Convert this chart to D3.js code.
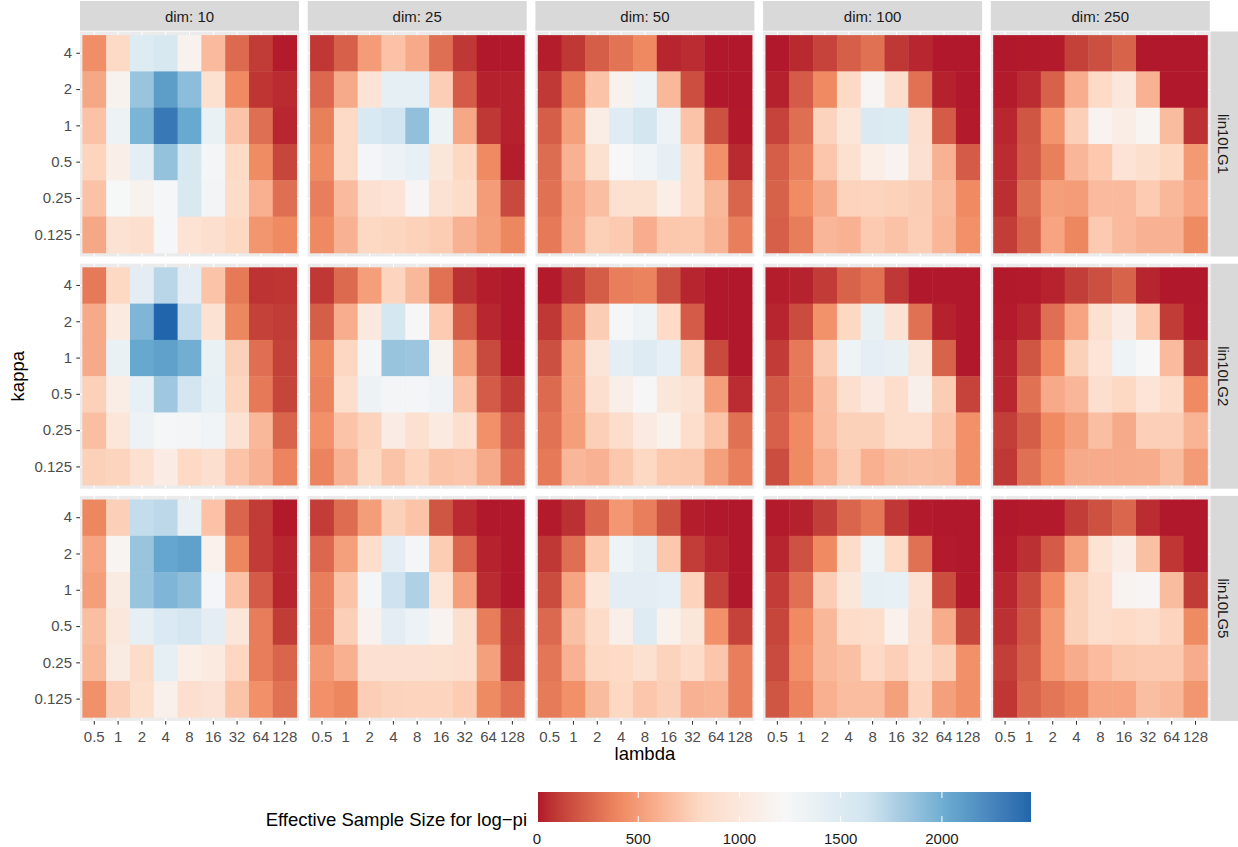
<!DOCTYPE html>
<html>
<head>
<meta charset="utf-8">
<script src="https://cdn.jsdelivr.net/npm/d3@7"></script>
<style>
  body { margin: 0; background: #fff; }
  text { font-family: "Liberation Sans", Arial, Helvetica, sans-serif; }
</style>
</head>
<body>
<div class="canvas"></div>
<script>
// categories
const lambdas = ['0.5', '1', '2', '4', '8', '16', '32', '64', '128'];
const kappas = ['4', '2', '1', '0.5', '0.25', '0.125'];   // top to bottom
const dims = ['10', '25', '50', '100', '250'];
const models = ['lin10LG1', 'lin10LG2', 'lin10LG5'];

// ESS values, rows = kappa (4 .. 0.125), cols = lambda (0.5 .. 128)
const lg1_d10 = [
  [430, 810, 1500, 1560, 1150, 650, 280, 100, 10],
  [560, 1150, 1850, 2100, 1900, 900, 410, 80, 50],
  [690, 1330, 1960, 2330, 2030, 1360, 700, 300, 40],
  [780, 1100, 1420, 1870, 1560, 1260, 815, 420, 140],
  [690, 1230, 1150, 1240, 1540, 1280, 830, 600, 300],
  [560, 920, 870, 1240, 930, 880, 800, 470, 410]
];
const lg1_d25 = [
  [90, 240, 500, 690, 570, 300, 90, 5, 5],
  [270, 570, 940, 1400, 1400, 750, 220, 25, 25],
  [370, 810, 1540, 1620, 1880, 1330, 560, 90, 25],
  [415, 810, 1270, 1340, 1390, 980, 800, 410, 15],
  [360, 650, 910, 940, 1200, 920, 840, 500, 150],
  [405, 610, 805, 790, 770, 740, 610, 510, 400]
];
const lg1_d50 = [
  [15, 90, 230, 320, 405, 35, 55, 5, 5],
  [95, 350, 700, 1150, 1320, 640, 170, 5, 5],
  [230, 520, 1080, 1480, 1600, 1340, 700, 180, 8],
  [290, 610, 900, 1220, 1300, 1410, 830, 440, 45],
  [310, 560, 670, 890, 900, 1090, 840, 640, 260],
  [345, 570, 755, 730, 590, 720, 725, 620, 360]
];
const lg1_d100 = [
  [5, 45, 130, 235, 310, 90, 40, 5, 5],
  [25, 220, 410, 810, 1200, 860, 310, 25, 5],
  [130, 300, 775, 970, 1520, 1510, 880, 220, 10],
  [230, 360, 710, 890, 1090, 1160, 910, 610, 220],
  [245, 420, 570, 775, 780, 770, 745, 650, 410],
  [235, 355, 630, 610, 730, 690, 750, 630, 440]
];
const lg1_d250 = [
  [5, 8, 12, 120, 175, 250, 5, 5, 5],
  [12, 55, 245, 590, 815, 990, 610, 5, 5],
  [40, 200, 460, 760, 1160, 1080, 1180, 660, 70],
  [55, 210, 370, 630, 725, 940, 870, 805, 490],
  [60, 290, 510, 500, 650, 650, 735, 640, 540],
  [105, 250, 540, 400, 730, 650, 610, 610, 415]
];

const lg2_d10 = [
  [340, 800, 1440, 1730, 1440, 700, 345, 75, 80],
  [570, 1030, 1950, 2440, 1690, 920, 400, 120, 100],
  [570, 1360, 2040, 2080, 2000, 1360, 765, 300, 120],
  [765, 1080, 1390, 1830, 1600, 1390, 790, 340, 135],
  [670, 970, 1330, 1250, 1270, 1300, 920, 640, 255],
  [765, 780, 900, 1060, 810, 880, 700, 610, 390]
];
const lg2_d25 = [
  [90, 280, 510, 785, 640, 310, 65, 15, 5],
  [230, 590, 1010, 1590, 1215, 735, 225, 40, 5],
  [400, 795, 1270, 1850, 1840, 1150, 520, 150, 12],
  [380, 860, 1330, 1270, 1270, 1310, 700, 220, 100],
  [440, 700, 775, 1060, 890, 1030, 880, 440, 220],
  [385, 610, 805, 700, 785, 700, 710, 570, 305]
];
const lg2_d50 = [
  [12, 90, 225, 360, 380, 175, 35, 5, 5],
  [90, 330, 745, 1240, 1320, 815, 220, 5, 5],
  [175, 510, 960, 1420, 1490, 1410, 750, 150, 5],
  [280, 520, 880, 1100, 1210, 980, 920, 510, 55],
  [315, 510, 760, 850, 1040, 1130, 860, 700, 310],
  [345, 630, 610, 720, 800, 725, 720, 520, 360]
];
const lg2_d100 = [
  [15, 30, 100, 250, 310, 90, 5, 5, 5],
  [35, 160, 450, 800, 1370, 920, 310, 25, 5],
  [100, 345, 745, 1320, 1420, 1370, 960, 250, 5],
  [210, 340, 670, 875, 1020, 860, 1110, 745, 130],
  [240, 410, 665, 765, 765, 850, 850, 700, 440],
  [165, 415, 600, 745, 600, 660, 670, 660, 440]
];
const lg2_d250 = [
  [8, 12, 30, 110, 175, 250, 35, 5, 5],
  [12, 40, 300, 540, 890, 1060, 725, 100, 12],
  [30, 200, 410, 765, 945, 1320, 1220, 650, 115],
  [40, 310, 570, 630, 880, 800, 945, 840, 410],
  [110, 225, 410, 520, 670, 570, 760, 760, 620],
  [90, 305, 440, 570, 575, 575, 580, 660, 495]
];

const lg5_d10 = [
  [400, 760, 1680, 1710, 1380, 690, 260, 100, 8],
  [540, 1180, 1850, 2050, 2080, 1130, 400, 100, 35],
  [510, 1050, 1850, 1950, 1890, 1270, 690, 220, 35],
  [670, 1000, 1400, 1530, 1580, 1440, 970, 355, 100],
  [645, 1050, 830, 1400, 1090, 1030, 795, 355, 260],
  [445, 760, 870, 1120, 875, 925, 700, 440, 310]
];
const lg5_d25 = [
  [105, 290, 505, 765, 700, 200, 50, 5, 5],
  [270, 520, 865, 1440, 1270, 740, 265, 30, 5],
  [360, 700, 1270, 1640, 1760, 945, 520, 50, 5],
  [360, 760, 1140, 1440, 1340, 1160, 880, 355, 90],
  [490, 600, 910, 910, 910, 890, 880, 520, 105],
  [440, 400, 750, 775, 785, 785, 740, 415, 310]
];
const lg5_d50 = [
  [12, 65, 265, 475, 360, 185, 15, 5, 5],
  [90, 300, 725, 1320, 1400, 715, 105, 35, 5],
  [160, 540, 950, 1440, 1440, 1410, 775, 125, 5],
  [275, 680, 840, 1100, 1490, 1130, 980, 440, 125],
  [330, 610, 800, 815, 890, 775, 830, 710, 360],
  [350, 440, 660, 800, 710, 760, 610, 620, 360]
];
const lg5_d100 = [
  [12, 25, 110, 260, 335, 90, 12, 5, 5],
  [35, 185, 410, 840, 1320, 815, 310, 12, 5],
  [105, 305, 745, 980, 1400, 1390, 920, 165, 8],
  [140, 410, 640, 840, 850, 1130, 880, 580, 140],
  [155, 440, 640, 680, 810, 760, 860, 765, 440],
  [200, 385, 600, 665, 665, 520, 785, 520, 435]
];
const lg5_d250 = [
  [5, 12, 12, 105, 180, 265, 55, 5, 5],
  [12, 65, 220, 520, 930, 1080, 680, 85, 5],
  [40, 160, 410, 765, 850, 1170, 1200, 660, 100],
  [65, 200, 490, 765, 850, 820, 850, 785, 415],
  [110, 230, 490, 580, 655, 720, 730, 730, 580],
  [85, 260, 330, 390, 540, 540, 670, 640, 470]
];

const legendBreaks = [0, 500, 1000, 1500, 2000];
const rdbu = ['#B2182B', '#EF8A62', '#FDDBC7', '#F7F7F7', '#D1E5F0', '#67A9CF', '#2166AC'];

// panels grid: rows = models, cols = dims
const grids = [
  [lg1_d10, lg1_d25, lg1_d50, lg1_d100, lg1_d250],
  [lg2_d10, lg2_d25, lg2_d50, lg2_d100, lg2_d250],
  [lg5_d10, lg5_d25, lg5_d50, lg5_d100, lg5_d250]
];

// flatten into tidy rows
const data = [];
models.forEach((m, r) => {
  dims.forEach((d, c) => {
    grids[r][c].forEach((row, k) => {
      row.forEach((v, l) => {
        data.push({ model: m, dim: d, kappa: kappas[k], lambda: lambdas[l], ess: v, r, c });
      });
    });
  });
});

const width = 1238, height = 847;

const svg = d3.select('.canvas')
  .append('svg')
  .attr('width', width)
  .attr('height', height);

// panel layout
const left0 = 80, top0 = 31.5;
const panelW = 219, panelH = 225;
const gapX = 8.7, gapY = 7.2;

const x = d3.scaleBand().domain(lambdas).range([0, panelW]).paddingInner(0).paddingOuter(0.1);
const y = d3.scaleBand().domain(kappas).range([0, panelH]).paddingInner(0).paddingOuter(0.1);

const extent = d3.extent(data, d => d.ess);
const color = d3.scaleSequential(d3.piecewise(d3.interpolateLab, rdbu)).domain(extent);

const panelX = c => left0 + c * (panelW + gapX);
const panelY = r => top0 + r * (panelH + gapY);

// draw panels
models.forEach((m, r) => {
  dims.forEach((d, c) => {
    const g = svg.append('g')
      .attr('transform', `translate(${panelX(c)},${panelY(r)})`);

    g.append('rect')
      .attr('width', panelW)
      .attr('height', panelH)
      .attr('fill', '#EBEBEB');

    // grid lines
    g.selectAll('.vgrid').data(lambdas).enter().append('line')
      .attr('x1', l => x(l) + x.bandwidth() / 2)
      .attr('x2', l => x(l) + x.bandwidth() / 2)
      .attr('y1', 0).attr('y2', panelH)
      .attr('stroke', '#fff').attr('stroke-width', 1.07);
    g.selectAll('.hgrid').data(kappas).enter().append('line')
      .attr('y1', k => y(k) + y.bandwidth() / 2)
      .attr('y2', k => y(k) + y.bandwidth() / 2)
      .attr('x1', 0).attr('x2', panelW)
      .attr('stroke', '#fff').attr('stroke-width', 1.07);

    const cells = data.filter(e => e.r === r && e.c === c);
    g.selectAll('rect.tile').data(cells).enter().append('rect')
      .attr('class', 'tile')
      .attr('x', e => x(e.lambda))
      .attr('y', e => y(e.kappa))
      .attr('width', x.bandwidth() + 0.4)
      .attr('height', y.bandwidth() + 0.4)
      .attr('fill', e => color(e.ess));

    // y axis on first column
    if (c === 0) {
      const ya = g.append('g').call(d3.axisLeft(y).tickSize(3.7).tickPadding(4.3));
      styleAxis(ya);
    }
    // x axis on bottom row
    if (r === models.length - 1) {
      const xa = g.append('g')
        .attr('transform', `translate(0,${panelH})`)
        .call(d3.axisBottom(x).tickSize(3.7).tickPadding(6.5));
      styleAxis(xa);
    }
  });
});

function styleAxis(a) {
  a.select('.domain').remove();
  a.selectAll('line').attr('stroke', '#333333').attr('stroke-width', 1.07);
  a.selectAll('text')
    .attr('fill', '#4D4D4D')
    .style('font-size', '15px')
    .style('font-family', '"Liberation Sans", Arial, sans-serif');
}

// top strips
dims.forEach((d, c) => {
  const g = svg.append('g').attr('transform', `translate(${panelX(c)},1)`);
  g.append('rect').attr('width', panelW).attr('height', 29.7).attr('fill', '#D9D9D9');
  g.append('text')
    .attr('x', panelW / 2).attr('y', 20.5)
    .attr('text-anchor', 'middle')
    .attr('fill', '#1A1A1A')
    .style('font-size', '15px')
    .text('dim: ' + d);
});

// right strips
const stripX = panelX(dims.length - 1) + panelW + 0.6;
models.forEach((m, r) => {
  const g = svg.append('g').attr('transform', `translate(${stripX},${panelY(r)})`);
  g.append('rect').attr('width', 30).attr('height', panelH).attr('fill', '#D9D9D9');
  g.append('text')
    .attr('transform', `translate(${8},${panelH / 2}) rotate(90)`)
    .attr('text-anchor', 'middle')
    .attr('fill', '#1A1A1A')
    .style('font-size', '15px')
    .text(m);
});

// axis titles
const plotMidX = (panelX(0) + panelX(dims.length - 1) + panelW) / 2;
const plotMidY = (panelY(0) + panelY(models.length - 1) + panelH) / 2;

svg.append('text')
  .attr('x', plotMidX).attr('y', 760)
  .attr('text-anchor', 'middle')
  .style('font-size', '18.5px')
  .text('lambda');

svg.append('text')
  .attr('transform', `translate(24,${plotMidY}) rotate(-90)`)
  .attr('text-anchor', 'middle')
  .style('font-size', '18.5px')
  .text('kappa');

// colour bar legend
const barX0 = 538, barX1 = 1031, barY = 792, barH = 30;
const defs = svg.append('defs');
const grad = defs.append('linearGradient').attr('id', 'essGrad');
d3.range(0, 1.0001, 0.02).forEach(t => {
  grad.append('stop')
    .attr('offset', `${t * 100}%`)
    .attr('stop-color', color(extent[0] + t * (extent[1] - extent[0])));
});

svg.append('rect')
  .attr('x', barX0).attr('y', barY)
  .attr('width', barX1 - barX0).attr('height', barH)
  .attr('fill', 'url(#essGrad)');

const lx = d3.scaleLinear().domain(extent).range([barX0, barX1]);

const lt = svg.append('g');
legendBreaks.forEach(b => {
  lt.append('line')
    .attr('x1', lx(b)).attr('x2', lx(b))
    .attr('y1', barY).attr('y2', barY + barH / 5)
    .attr('stroke', '#fff').attr('stroke-width', 1);
  lt.append('line')
    .attr('x1', lx(b)).attr('x2', lx(b))
    .attr('y1', barY + barH - barH / 5).attr('y2', barY + barH)
    .attr('stroke', '#fff').attr('stroke-width', 1);
  lt.append('text')
    .attr('x', lx(b)).attr('y', 844)
    .attr('text-anchor', 'middle')
    .attr('fill', '#1A1A1A')
    .style('font-size', '15px')
    .text(b);
});

svg.append('text')
  .attr('x', 527).attr('y', 826)
  .attr('text-anchor', 'end')
  .style('font-size', '18.5px')
  .text('Effective Sample Size for log\u2212pi');
</script>
</body>
</html>
